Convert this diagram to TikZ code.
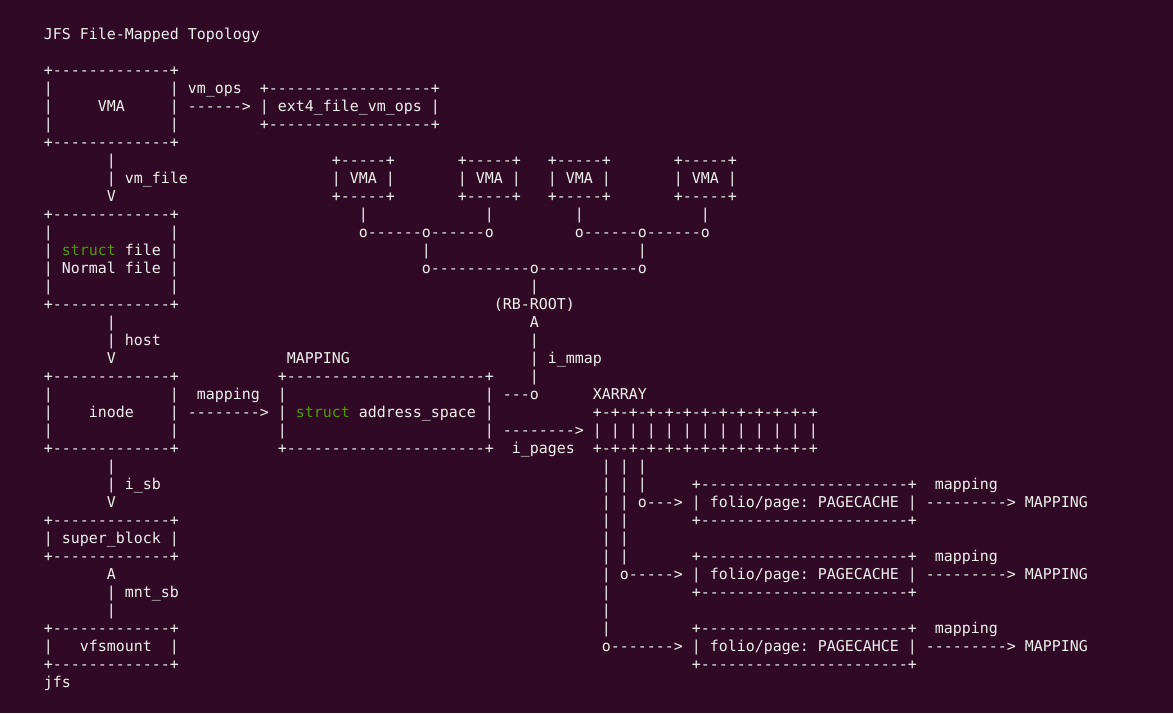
\documentclass[tikz,border=0pt]{standalone}
\usepackage{fontspec}
\setmonofont{DejaVu Sans Mono}
\definecolor{bgc}{HTML}{300A24}
\definecolor{fgc}{HTML}{F0F0F0}
\definecolor{kwc}{HTML}{4E9A06}
\ExplSyntaxOn
\cs_new:Npn \asciidash #1 { \prg_replicate:nn {#1} {-} }
\ExplSyntaxOff
\newcommand\termfont{\ttfamily\fontsize{14.9489pt}{18pt}\selectfont}
\tikzset{
  t/.style={anchor=base west, inner sep=0pt, outer sep=0pt, text=fgc, font=\termfont},
  kw/.style={t, text=kwc}
}
% ASCII box: #1 name, #2 col, #3 row, #4 dash count, #5 inner rows
\newcommand\abox[5]{%
  \node[t] (#1-top) at (#2,#3) {+\asciidash{#4}+};
  \foreach \k in {1,...,#5} {
    \node[t] (#1-l\k) at (#2,#3+\k) {|};
    \node[t] (#1-r\k) at (#2+#4+1,#3+\k) {|};
  }
  \node[t] (#1-bot) at (#2,#3+#5+1) {+\asciidash{#4}+};
}
% vertical run of bars: #1 name, #2 col, #3 first row, #4 last row
\newcommand\vrun[4]{%
  \foreach \k in {#3,...,#4} {
    \node[t] (#1-\k) at (#2,\k) {|};
  }
}
\begin{document}
\begin{tikzpicture}[x=9pt,y=-18pt]
\fill[bgc] (-4.8667,-2.1667) rectangle (125.4667,37.4444);
\useasboundingbox (-4.8667,-2.1667) rectangle (125.4667,37.4444);

% title
\node[t] (title) at (0,0) {JFS File-Mapped Topology};

% VMA box and ops
\abox{vma}{0}{2}{13}{3}
\node[t] (vmaT) at (6,4) {VMA};
\node[t] (vmops) at (16,3) {vm\_ops};
\node[t] (vmopsA) at (16,4) {------>};
\abox{ops}{24}{3}{18}{1}
\node[t] (opsT) at (26,4) {ext4\_file\_vm\_ops};

% vm_file link
\vrun{vf}{7}{7}{8}
\node[t] (vmfile) at (9,8) {vm\_file};
\node[t] (vfV) at (7,9) {V};

% struct file box
\abox{file}{0}{10}{13}{4}
\node[kw] (fileS) at (2,12) {struct};
\node[t] (fileF) at (9,12) {file};
\node[t] (fileN) at (2,13) {Normal file};

% host link
\vrun{ho}{7}{16}{17}
\node[t] (host) at (9,17) {host};
\node[t] (hoV) at (7,18) {V};

% inode box
\abox{inode}{0}{19}{13}{3}
\node[t] (inodeT) at (5,21) {inode};
\node[t] (mapl) at (17,20) {mapping};
\node[t] (mapA) at (16,21) {-------->};

% address_space box
\node[t] (mappingT) at (27,18) {MAPPING};
\abox{as}{26}{19}{22}{3}
\node[kw] (asS) at (28,21) {struct};
\node[t] (asT) at (35,21) {address\_space};

% i_sb link
\vrun{isb}{7}{24}{25}
\node[t] (isb) at (9,25) {i\_sb};
\node[t] (isbV) at (7,26) {V};

% super_block
\abox{sb}{0}{27}{13}{1}
\node[t] (sbT) at (2,28) {super\_block};

% mnt_sb link
\node[t] (mntA) at (7,30) {A};
\vrun{mnt}{7}{31}{32}
\node[t] (mntsb) at (9,31) {mnt\_sb};

% vfsmount
\abox{vfs}{0}{33}{13}{1}
\node[t] (vfsT) at (4,34) {vfsmount};
\node[t] (jfs) at (0,36) {jfs};

% VMA tree
\abox{va}{32}{7}{5}{1}
\node[t] (vaT) at (34,8) {VMA};
\abox{vb}{46}{7}{5}{1}
\node[t] (vbT) at (48,8) {VMA};
\abox{vc}{56}{7}{5}{1}
\node[t] (vcT) at (58,8) {VMA};
\abox{vd}{70}{7}{5}{1}
\node[t] (vdT) at (72,8) {VMA};
\node[t] (ta) at (35,10) {|};
\node[t] (tb) at (49,10) {|};
\node[t] (tc) at (59,10) {|};
\node[t] (td) at (73,10) {|};
\node[t] (jl) at (35,11) {o------o------o};
\node[t] (jr) at (59,11) {o------o------o};
\node[t] (jlb) at (42,12) {|};
\node[t] (jrb) at (66,12) {|};
\node[t] (jroot) at (42,13) {o-----------o-----------o};
\node[t] (rootb) at (54,14) {|};
\node[t] (rbroot) at (50,15) {(RB-ROOT)};
\node[t] (rootA) at (54,16) {A};
\vrun{mm}{54}{17}{19}
\node[t] (immap) at (56,18) {i\_mmap};
\node[t] (mmo) at (51,20) {---o};

% XARRAY
\node[t] (xarrT) at (61,20) {XARRAY};
\node[t] (xtop) at (61,21) {+-+-+-+-+-+-+-+-+-+-+-+-+};
\node[t] (xmid) at (61,22) {| | | | | | | | | | | | |};
\node[t] (xbot) at (61,23) {+-+-+-+-+-+-+-+-+-+-+-+-+};
\node[t] (ipA) at (51,22) {-------->};
\node[t] (ipages) at (52,23) {i\_pages};

% xarray slots to folios
\vrun{sa}{62}{24}{33}
\node[t] (sao) at (62,34) {o------->};
\vrun{sb}{64}{24}{29}
\node[t] (sbo) at (64,30) {o----->};
\vrun{sc}{66}{24}{25}
\node[t] (sco) at (66,26) {o--->};

% folio boxes
\abox{fa}{72}{25}{23}{1}
\node[t] (faT) at (74,26) {folio/page: PAGECACHE};
\abox{fb}{72}{29}{23}{1}
\node[t] (fbT) at (74,30) {folio/page: PAGECACHE};
\abox{fc}{72}{33}{23}{1}
\node[t] (fcT) at (74,34) {folio/page: PAGECAHCE};

\node[t] (fam) at (99,25) {mapping};
\node[t] (faA) at (98,26) {--------->};
\node[t] (faM) at (109,26) {MAPPING};
\node[t] (fbm) at (99,29) {mapping};
\node[t] (fbA) at (98,30) {--------->};
\node[t] (fbM) at (109,30) {MAPPING};
\node[t] (fcm) at (99,33) {mapping};
\node[t] (fcA) at (98,34) {--------->};
\node[t] (fcM) at (109,34) {MAPPING};
\end{tikzpicture}
\end{document}
